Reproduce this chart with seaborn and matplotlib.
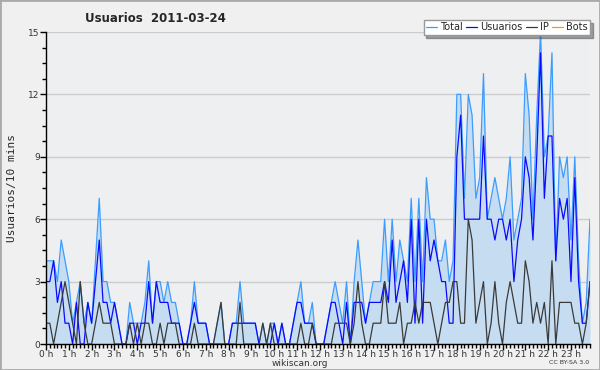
import numpy as np
import pandas as pd
import seaborn as sns
import matplotlib.pyplot as plt
from matplotlib.ticker import MultipleLocator
from matplotlib.patches import Rectangle

# users per 10 minutes, 2011-03-24 (144 slots)
total = [4, 4, 4, 3, 5, 4, 3, 1, 2, 3, 1, 2, 1, 4, 7, 3, 3, 2, 2, 1, 0, 0, 2, 1,
         1, 1, 2, 4, 1, 3, 3, 2, 3, 2, 2, 1, 0, 0, 1, 3, 1, 1, 1, 0, 0, 1, 2, 0,
         0, 1, 1, 3, 1, 1, 1, 1, 0, 1, 0, 1, 1, 0, 1, 0, 0, 1, 2, 3, 1, 1, 2, 0,
         0, 0, 1, 2, 3, 2, 1, 3, 0, 3, 5, 3, 1, 2, 3, 3, 3, 6, 3, 6, 3, 5, 4, 3,
         7, 3, 7, 3, 8, 6, 6, 4, 4, 5, 3, 4, 12, 12, 7, 12, 11, 7, 8, 13, 6, 7, 8, 7,
         6, 7, 9, 5, 6, 7, 13, 11, 6, 11, 15, 9, 10, 14, 4, 9, 8, 9, 5, 9, 4, 1, 2, 6]
usuarios = [3, 3, 4, 2, 3, 1, 1, 0, 2, 0, 0, 2, 1, 3, 5, 2, 2, 1, 2, 1, 0, 0, 1, 1,
            0, 1, 1, 3, 1, 3, 2, 2, 2, 1, 1, 1, 0, 0, 1, 2, 1, 1, 1, 0, 0, 0, 0, 0,
            0, 1, 1, 1, 1, 1, 1, 1, 0, 0, 0, 0, 1, 0, 1, 0, 0, 1, 2, 2, 1, 1, 1, 0,
            0, 0, 1, 2, 2, 1, 0, 2, 0, 2, 2, 2, 1, 2, 2, 2, 2, 3, 2, 5, 2, 3, 4, 2,
            6, 1, 6, 1, 6, 4, 5, 4, 3, 3, 1, 1, 9, 11, 6, 6, 6, 6, 6, 10, 6, 6, 5, 6,
            6, 5, 6, 3, 5, 6, 9, 8, 5, 9, 14, 7, 10, 10, 4, 7, 6, 7, 3, 8, 3, 1, 1, 3]
ip = [1, 1, 0, 1, 2, 3, 2, 1, 0, 3, 1, 0, 0, 1, 2, 1, 1, 1, 0, 0, 0, 0, 1, 0,
      1, 0, 1, 1, 0, 0, 1, 0, 1, 1, 1, 0, 0, 0, 0, 1, 0, 0, 0, 0, 0, 1, 2, 0,
      0, 0, 0, 2, 0, 0, 0, 0, 0, 1, 0, 1, 0, 0, 0, 0, 0, 0, 0, 1, 0, 0, 1, 0,
      0, 0, 0, 0, 1, 1, 1, 1, 0, 1, 3, 1, 0, 0, 1, 1, 1, 3, 1, 1, 1, 2, 0, 1,
      1, 2, 1, 2, 2, 2, 1, 0, 1, 2, 2, 3, 3, 1, 1, 6, 5, 1, 2, 3, 0, 1, 3, 1,
      0, 2, 3, 2, 1, 1, 4, 3, 1, 2, 1, 2, 0, 4, 0, 2, 2, 2, 2, 1, 1, 0, 1, 3]
bots = [0] * 144
hour_labels = [f"{h} h" for h in range(24)]

df = pd.DataFrame({'hora': np.arange(len(total)) / 6, 'Total': total,
                   'Usuarios': usuarios, 'IP': ip, 'Bots': bots})

sns.set_style("white")
plt.rcParams['font.family'] = ['DejaVu Sans Condensed', 'DejaVu Sans']

fig = plt.figure(figsize=(6, 3.7), dpi=100, facecolor='#f0f0f0')
ax = fig.add_axes([46 / 600, 26 / 370, 544 / 600, 312 / 370])
ax.set_facecolor('#eeeff1')

ax.fill_between(df['hora'], df['Total'], color='#c6ddf1', lw=0, zorder=1)
colors = {'Total': '#3c9dff', 'Usuarios': '#0a0aff', 'IP': '#3a3a3a', 'Bots': '#ff9900'}
for col in ['Total', 'Usuarios', 'IP', 'Bots']:
    sns.lineplot(data=df, x='hora', y=col, ax=ax, color=colors[col], lw=0.9,
                 label=col, zorder=2)

ax.set_xlim(0, 143 / 6)
ax.set_ylim(0, 15)
ax.set_xticks(range(24))
ax.set_xticklabels(hour_labels)
ax.xaxis.set_minor_locator(MultipleLocator(1 / 6))
ax.set_yticks([0, 3, 6, 9, 12, 15])
ax.yaxis.set_minor_locator(MultipleLocator(0.75))
ax.tick_params(axis='both', which='major', direction='out', length=4, width=1,
               color='black', labelsize=6.5, labelcolor='#333333', pad=0.5)
ax.tick_params(axis='both', which='minor', direction='out', length=3, width=1, color='black')
ax.tick_params(axis='x', which='both', bottom=True)
ax.tick_params(axis='y', which='both', left=True)
ax.grid(axis='y', which='major', color='#cccccc', lw=1)
ax.set_axisbelow(True)
for s in ['top', 'right']:
    ax.spines[s].set_visible(False)
for s in ['left', 'bottom']:
    ax.spines[s].set_color('black')
    ax.spines[s].set_linewidth(1)
ax.set_xlabel('')
ax.set_ylabel('Usuarios/10 mins', family='DejaVu Sans Mono', fontsize=8, labelpad=8)

ax.legend(ncol=4, loc='upper right', bbox_to_anchor=(590 / 600, 1 - 20 / 370),
          bbox_transform=fig.transFigure, frameon=True, fancybox=False, shadow=True,
          edgecolor='#999999', framealpha=1, fontsize=7, handlelength=1.1,
          columnspacing=0.4, handletextpad=0.3, borderpad=0.25, borderaxespad=0)

fig.text(85 / 600, 1 - 18 / 370, 'Usuarios  2011-03-24', fontsize=8.5, fontweight='bold',
         ha='left', va='center')
fig.text(0.5, 1 - 363 / 370, 'wikiscan.org', fontsize=6.5, color='#333333', ha='center', va='center')
fig.text(589 / 600, 1 - 363 / 370, 'CC BY-SA 3.0', fontsize=4.5, color='#333333', ha='right', va='center')
fig.patches.append(Rectangle((0, 0), 1, 1, transform=fig.transFigure, fill=False,
                             edgecolor='#aaaaaa', lw=2))

fig.savefig('out.png', dpi=100, facecolor=fig.get_facecolor())
